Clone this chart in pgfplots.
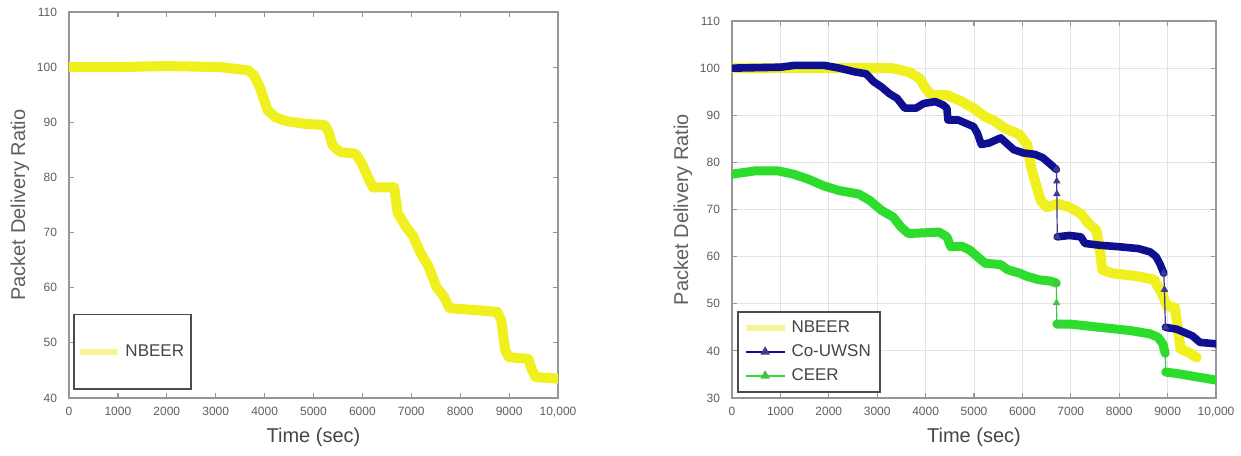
\documentclass[border=0pt]{standalone}
\usepackage{pgfplots}
\pgfplotsset{compat=1.18}
\usepackage{pgfplotstable}
\usepackage{fontspec}
\setmainfont{Liberation Sans}

\definecolor{nbeer}{RGB}{240,240,30}
\definecolor{nbeerleg}{RGB}{246,246,150}
\definecolor{couwsn}{RGB}{15,15,145}
\definecolor{ceer}{RGB}{45,220,45}
\definecolor{axgray}{RGB}{150,150,150}
\definecolor{txtgray}{RGB}{95,95,95}
\definecolor{labgray}{RGB}{70,70,70}

\pgfplotstableread{
t v
0 100
1000 100
2000 100.2
3100 100
3670 99.4
3785 98.5
3900 96.4
3980 94.3
4060 92.2
4220 90.9
4450 90.2
4840 89.7
5230 89.5
5310 88.2
5390 85.8
5550 84.6
5860 84.3
5980 82.7
6100 80.3
6215 78.2
6650 78.2
6720 73.6
6880 71.2
7040 69.3
7190 66.3
7350 63.9
7510 60.2
7665 58.4
7780 56.3
8370 55.9
8760 55.6
8840 54.1
8920 48.6
9000 47.4
9390 47.1
9470 45.0
9545 43.8
10000 43.5
}\nbeerA

\pgfplotstableread{
t v
0 100
3000 100
3300 100
3645 99.2
3880 97.8
4000 95.7
4120 94.3
4440 94.3
4750 92.9
4990 91.5
5230 89.7
5390 89
5630 87.3
5940 85.9
6100 83.8
6180 78.9
6300 74.7
6380 71.9
6500 70.5
6735 71.2
6970 70.5
7210 69.1
7370 67
7530 65.6
7610 60.7
7650 57.2
7845 56.5
8400 55.8
8720 55.1
8875 52.3
8990 49.5
9150 49.2
9270 40.4
9430 39.7
9600 38.6
}\nbeerB

\pgfplotstableread{
t v
0 100
1000 100.2
1300 100.6
1900 100.6
2220 100
2540 99.2
2770 98.8
2930 97.1
3090 96
3250 94.6
3410 93.6
3570 91.5
3800 91.5
3960 92.5
4200 92.9
4360 92.2
4440 91.5
4460 89
4675 89
4830 88.3
4990 87.6
5070 86.2
5150 83.8
5310 84.1
5550 85.2
5700 83.8
5820 82.7
6020 82
6260 81.7
6420 81
6580 79.6
6700 78.5
nan nan
6720 64.2
6970 64.5
7210 64.2
7290 62.8
7610 62.4
8000 62.1
8400 61.7
8640 61
8760 60
8835 58.6
8920 56.5
nan nan
8955 45
9190 44.6
9350 43.9
9510 43.2
9670 41.8
10000 41.5
}\couwsn

\pgfplotstableread{
t v
0 77.5
475 78.2
950 78.2
1270 77.5
1585 76.4
1900 75
2220 74
2615 73.3
2850 71.9
3090 69.8
3330 68.4
3490 66.3
3645 64.9
4280 65.2
4440 64.2
4520 62.1
4750 62.2
4910 61.4
5070 60
5230 58.6
5550 58.3
5700 57.2
5940 56.5
6100 55.8
6340 55.1
6580 54.8
6700 54.4
nan nan
6710 45.7
6970 45.7
7600 45
8240 44.3
8640 43.6
8800 42.9
8900 41.5
8950 39.5
nan nan
8960 35.5
9190 35.2
9590 34.5
10000 33.8
}\ceer

\pgfplotsset{
  mystyle/.style={
    scale only axis,
    xmin=0, xmax=10000,
    xtick={0,1000,...,10000},
    xticklabels={0,1000,2000,3000,4000,5000,6000,7000,8000,9000,{10,000}},
    scaled x ticks=false,
    tick align=inside,
    major tick length=2.5pt,
    axis line style={axgray, line width=0.8pt},
    tick style={axgray, line width=0.6pt},
    /pgf/number format/assume math mode=true,
    tick label style={font=\fontsize{6}{7}\selectfont, text=txtgray},
    xticklabel style={yshift=-1.2pt},
    yticklabel style={xshift=-2.5pt},
    xlabel={Time (sec)},
    ylabel={Packet Delivery Ratio},
    x label style={at={(axis description cs:0.5,0)}, anchor=center, yshift=-19.5pt, font=\fontsize{10}{12}\selectfont, text=labgray},
    y label style={at={(axis description cs:0,0.5)}, anchor=center, yshift=24.5pt, font=\fontsize{10}{12}\selectfont, text=txtgray},
    unbounded coords=jump,
    legend cell align=left,
    legend image code/.code={\draw[mark repeat=2, mark phase=2, ##1] plot coordinates {(0cm,0cm) (0.34cm,0cm) (0.68cm,0cm)};},
  },
}

\begin{document}
\begin{tikzpicture}
\fill[white] (0,0) rectangle (620.5pt,227.5pt);
\path[use as bounding box] (0,0) rectangle (620.5pt,227.5pt);

% Left panel
\begin{axis}[mystyle,
  at={(34.5pt,28.5pt)}, anchor=south west,
  width=244.5pt, height=193pt,
  ymin=40, ymax=110, ytick={40,50,...,110},
  legend style={at={(0,0)}, anchor=south west, xshift=2pt, yshift=4pt,
    draw=black!70, line width=0.8pt, inner xsep=1.5pt, inner ysep=13pt,
    font=\fontsize{8.5}{10}\selectfont, text=labgray, fill=white},
]
\addplot[nbeer, line width=5pt, line join=round, line cap=round, forget plot] table[x=t,y=v] {\nbeerA};
\addlegendimage{nbeerleg, line width=3pt}
\addlegendentry{NBEER}
\end{axis}

% Right panel
\begin{axis}[mystyle,
  at={(366pt,28.5pt)}, anchor=south west,
  width=242pt, height=188.5pt,
  ymin=30, ymax=110, ytick={30,40,...,110},
  grid=major, grid style={gray!22, line width=0.5pt},
  legend style={at={(0,0)}, anchor=south west, xshift=2.5pt, yshift=2.5pt,
    draw=black!70, line width=0.8pt, inner xsep=2.5pt, inner ysep=2.5pt,
    row sep=0.5pt,
    font=\fontsize{8.5}{10}\selectfont, text=labgray, fill=white},
]
\addplot[nbeer, line width=5pt, line join=round, line cap=round, forget plot] table[x=t,y=v] {\nbeerB};
\addplot[couwsn, line width=3.8pt, line join=round, line cap=round, forget plot] table[x=t,y=v] {\couwsn};
\addplot[couwsn!60!gray, line width=0.6pt, mark=triangle*, mark size=1.6pt, forget plot] coordinates {(6700,78.5) (6710,76) (6712,73.3) (6720,64.2)};
\addplot[couwsn!60!gray, line width=0.6pt, mark=triangle*, mark size=1.6pt, forget plot] coordinates {(8920,56.5) (8935,53) (8955,45)};
\addplot[ceer, line width=4.5pt, line join=round, line cap=round, forget plot] table[x=t,y=v] {\ceer};
\addplot[ceer!70!gray, line width=0.6pt, mark=triangle*, mark size=1.6pt, forget plot] coordinates {(6700,54.4) (6705,50.2) (6710,45.7)};
\addplot[ceer!70!gray, line width=0.6pt, forget plot] coordinates {(8950,39.5) (8960,35.5)};
\addlegendimage{nbeerleg, line width=3pt}
\addlegendentry{NBEER}
\addlegendimage{couwsn, line width=0.8pt, mark=triangle*, mark size=2pt, mark options={couwsn!60!gray}}
\addlegendentry{Co-UWSN}
\addlegendimage{ceer, line width=0.8pt, mark=triangle*, mark size=2pt, mark options={ceer!70!gray}}
\addlegendentry{CEER}
\end{axis}
\end{tikzpicture}
\end{document}
